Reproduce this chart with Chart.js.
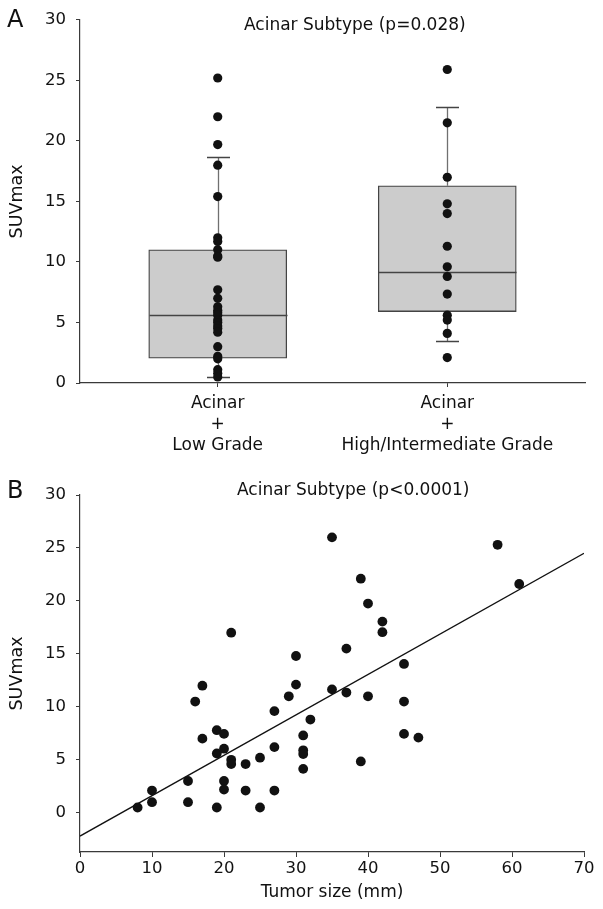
<!DOCTYPE html>
<html>
<head>
<meta charset="utf-8">
<script src="https://cdn.jsdelivr.net/npm/chart.js@4.4.0/dist/chart.umd.min.js"></script>
<style>
  html, body { margin: 0; padding: 0; background: #fff; }
  #wrapA { position: absolute; left: 0; top: 0; width: 603px; height: 470px; }
  #wrapB { position: absolute; left: 0; top: 470px; width: 603px; height: 439px; }
</style>
</head>
<body>
<div id="wrapA"><canvas id="chartA" width="603" height="470"></canvas></div>
<div id="wrapB"><canvas id="chartB" width="603" height="439"></canvas></div>
<script>
// ---- panel A: box plot data ----
const groupLabels = [['Acinar', '+', 'Low Grade'], ['Acinar', '+', 'High/Intermediate Grade']];
const boxQ1 = [2.05, 5.9];
const boxMedian = [5.65, 9.2];
const boxQ3 = [11.0, 16.3];
const whiskerLow = [0.5, 3.45];
const whiskerHigh = [18.7, 22.8];
const lowGradeSuv = [25.2, 22.0, 19.7, 18.0, 15.4, 12.0, 11.7, 11.0, 10.5, 10.4, 7.7, 7.0, 6.3, 6.0,
  5.8, 5.6, 5.2, 5.0, 4.7, 4.5, 4.2, 3.0, 2.2, 2.0, 1.1, 0.8, 0.5];
const highGradeSuv = [25.9, 21.5, 17.0, 14.8, 14.0, 11.3, 9.6, 8.8, 7.35, 5.6, 5.2, 4.1, 2.1];
const suvTicks = [0, 5, 10, 15, 20, 25, 30];

// ---- panel B: scatter data ----
const tumorSize = [8, 10, 10, 15, 15, 16, 17, 17, 19, 19, 19, 20, 20, 20, 20, 21, 21, 21, 23, 23,
  25, 25, 27, 27, 27, 29, 30, 30, 31, 31, 31, 31, 32, 35, 35, 37, 37, 39, 39, 40, 40, 42, 42,
  45, 45, 45, 47, 58, 61];
const suvBySize = [0.5, 2.1, 1.0, 3.0, 1.0, 10.5, 12.0, 7.0, 7.8, 5.6, 0.5, 7.45, 6.05, 3.0, 2.2,
  17.0, 5.0, 4.6, 4.6, 2.1, 5.2, 0.5, 9.6, 6.2, 2.1, 11.0, 14.8, 12.1, 7.3, 5.9, 5.55, 4.15, 8.8,
  26.0, 11.65, 15.5, 11.35, 22.1, 4.85, 19.75, 11.0, 18.05, 17.05, 14.05, 10.5, 7.45, 7.1, 25.3, 21.6];
const fitX = [0, 70];
const fitY = [-2.2, 24.5];
const sizeTicks = [0, 10, 20, 30, 40, 50, 60, 70];

const fontFamily = '"DejaVu Sans", sans-serif';
const axisColor = '#3a3a3a';
const textColor = '#111111';

// 面板字母和标题
const panelText = {
  id: 'panelText',
  afterDraw(chart, args, opts) {
    const ctx = chart.ctx;
    ctx.save();
    ctx.fillStyle = textColor;
    ctx.textAlign = 'left';
    ctx.textBaseline = 'alphabetic';
    ctx.font = '24px ' + fontFamily;
    ctx.fillText(opts.letter, 7, opts.letterY);
    ctx.font = '17px ' + fontFamily;
    ctx.fillText(opts.title, opts.titleX, opts.titleY);
    ctx.restore();
  }
};

// 须线和中位数
const boxWhiskers = {
  id: 'boxWhiskers',
  afterDatasetDraw(chart, args) {
    if (args.meta.type !== 'bar') return;
    const { ctx, scales: { x, y } } = chart;
    ctx.save();
    ctx.lineWidth = 1.3;
    groupLabels.forEach((_, i) => {
      const cx = Math.round(x.getPixelForValue(i)) + 0.5;
      const yHi = Math.round(y.getPixelForValue(whiskerHigh[i])) + 0.5;
      const yLo = Math.round(y.getPixelForValue(whiskerLow[i])) + 0.5;
      ctx.strokeStyle = '#707070';
      ctx.beginPath();
      ctx.moveTo(cx, y.getPixelForValue(boxQ3[i]));
      ctx.lineTo(cx, yHi);
      ctx.moveTo(cx, y.getPixelForValue(boxQ1[i]));
      ctx.lineTo(cx, yLo);
      ctx.stroke();
      ctx.strokeStyle = '#444444';
      ctx.beginPath();
      ctx.moveTo(cx - 11.5, yHi);
      ctx.lineTo(cx + 11.5, yHi);
      ctx.moveTo(cx - 11.5, yLo);
      ctx.lineTo(cx + 11.5, yLo);
      const yMed = Math.round(y.getPixelForValue(boxMedian[i])) + 0.5;
      ctx.moveTo(cx - 69, yMed);
      ctx.lineTo(cx + 69, yMed);
      ctx.stroke();
    });
    ctx.restore();
  }
};

// 初始化箱线图
function initBoxChart() {
  const ctx = document.getElementById('chartA').getContext('2d');
  const dots = [];
  lowGradeSuv.forEach(v => dots.push({ x: 0, y: v }));
  highGradeSuv.forEach(v => dots.push({ x: 1, y: v }));

  new Chart(ctx, {
    type: 'scatter',
    data: {
      datasets: [{
        type: 'scatter',
        data: dots,
        backgroundColor: textColor,
        borderColor: textColor,
        pointRadius: 4.6,
        borderWidth: 0,
        order: 0
      }, {
        type: 'bar',
        data: groupLabels.map((_, i) => ({ x: i, y: [boxQ1[i], boxQ3[i]] })),
        backgroundColor: '#cccccc',
        borderColor: '#444444',
        borderWidth: 1.3,
        borderSkipped: false,
        barThickness: 138,
        order: 2
      }]
    },
    options: {
      responsive: false,
      animation: false,
      layout: { padding: { left: 0, top: 17, right: 18, bottom: 0 } },
      scales: {
        x: {
          type: 'linear',
          min: -0.6,
          max: 1.6,
          offset: false,
          afterBuildTicks: s => { s.ticks = groupLabels.map((_, i) => ({ value: i })); },
          afterFit: s => { s.height = 87; },
          grid: { drawOnChartArea: false, drawTicks: true, tickLength: 4, color: axisColor, offset: false },
          border: { color: axisColor, width: 1.2 },
          ticks: {
            autoSkip: false,
            maxRotation: 0,
            padding: 6,
            color: textColor,
            font: { family: fontFamily, size: 17, lineHeight: 1.24 },
            callback: v => groupLabels[v]
          }
        },
        y: {
          min: 0,
          max: 30,
          afterBuildTicks: s => { s.ticks = suvTicks.map(v => ({ value: v })); },
          afterFit: s => { s.width = 80; },
          grid: { drawOnChartArea: false, drawTicks: true, tickLength: 4, color: axisColor },
          border: { color: axisColor, width: 1.2 },
          ticks: { padding: 10, color: textColor, font: { family: fontFamily, size: 16.5 } },
          title: {
            display: true,
            text: 'SUVmax',
            color: textColor,
            font: { family: fontFamily, size: 17.5 },
            padding: { top: 6.5, bottom: 0 }
          }
        }
      },
      plugins: {
        legend: { display: false },
        tooltip: { enabled: false },
        panelText: { letter: 'A', letterY: 27, title: 'Acinar Subtype (p=0.028)', titleX: 244, titleY: 30 }
      }
    },
    plugins: [boxWhiskers, panelText]
  });
}

// 初始化散点图
function initScatterChart() {
  const ctx = document.getElementById('chartB').getContext('2d');

  new Chart(ctx, {
    type: 'scatter',
    data: {
      datasets: [{
        type: 'scatter',
        data: tumorSize.map((s, i) => ({ x: s, y: suvBySize[i] })),
        backgroundColor: textColor,
        borderColor: textColor,
        pointRadius: 4.9,
        borderWidth: 0,
        order: 0
      }, {
        type: 'line',
        data: fitX.map((s, i) => ({ x: s, y: fitY[i] })),
        borderColor: textColor,
        borderWidth: 1.3,
        pointRadius: 0,
        fill: false,
        order: 1
      }]
    },
    options: {
      responsive: false,
      animation: false,
      layout: { padding: { left: 0, top: 25, right: 19, bottom: 0 } },
      scales: {
        x: {
          type: 'linear',
          min: 0,
          max: 70,
          afterBuildTicks: s => { s.ticks = sizeTicks.map(v => ({ value: v })); },
          afterFit: s => { s.height = 57; },
          grid: { drawOnChartArea: false, drawTicks: true, tickLength: 5, color: axisColor },
          border: { color: axisColor, width: 1.2 },
          ticks: { autoSkip: false, maxRotation: 0, padding: 2, color: textColor, font: { family: fontFamily, size: 16.5 } },
          title: {
            display: true,
            text: 'Tumor size (mm)',
            color: textColor,
            font: { family: fontFamily, size: 17 },
            padding: { top: 0, bottom: 6 }
          }
        },
        y: {
          min: -3.7,
          max: 30,
          afterBuildTicks: s => { s.ticks = suvTicks.map(v => ({ value: v })); },
          afterFit: s => { s.width = 80; },
          grid: { drawOnChartArea: false, drawTicks: true, tickLength: 4, color: axisColor },
          border: { color: axisColor, width: 1.2 },
          ticks: { padding: 10, color: textColor, font: { family: fontFamily, size: 16.5 } },
          title: {
            display: true,
            text: 'SUVmax',
            color: textColor,
            font: { family: fontFamily, size: 17.5 },
            padding: { top: 6.5, bottom: 0 }
          }
        }
      },
      plugins: {
        legend: { display: false },
        tooltip: { enabled: false },
        panelText: { letter: 'B', letterY: 28, title: 'Acinar Subtype (p<0.0001)', titleX: 237, titleY: 25 }
      }
    },
    plugins: [panelText]
  });
}

initBoxChart();
initScatterChart();
</script>
</body>
</html>
